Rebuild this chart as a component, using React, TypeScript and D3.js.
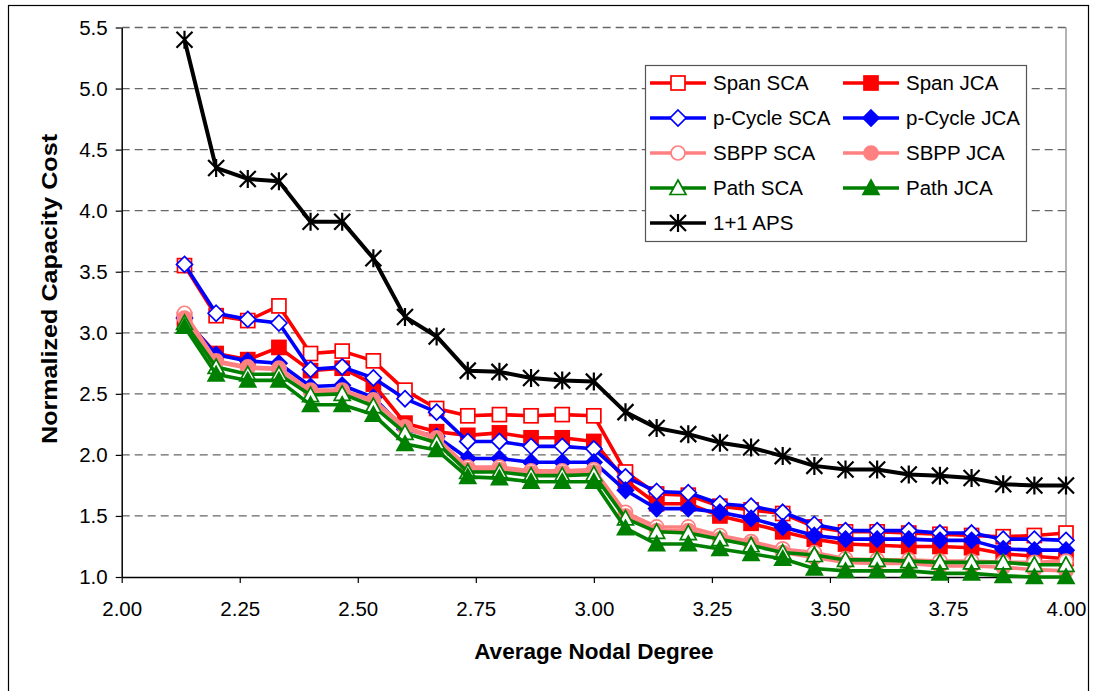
import { useEffect, useRef } from 'react';
import * as d3 from 'd3';

const degrees = [2.133, 2.2, 2.267, 2.333, 2.4, 2.467, 2.533, 2.6, 2.667, 2.733, 2.8, 2.867, 2.933, 3.0,
  3.067, 3.133, 3.2, 3.267, 3.333, 3.4, 3.467, 3.533, 3.6, 3.667, 3.733, 3.8, 3.867, 3.933, 4.0];

const spanSCA = [3.55, 3.14, 3.10, 3.22, 2.83, 2.85, 2.77, 2.53, 2.38, 2.32, 2.33, 2.32, 2.33, 2.32,
  1.86, 1.68, 1.67, 1.58, 1.55, 1.52, 1.41, 1.37, 1.37, 1.36, 1.35, 1.34, 1.33, 1.34, 1.36];
const spanJCA = [3.11, 2.83, 2.78, 2.88, 2.69, 2.71, 2.58, 2.26, 2.19, 2.16, 2.18, 2.14, 2.14, 2.11,
  1.79, 1.60, 1.60, 1.50, 1.44, 1.37, 1.31, 1.27, 1.26, 1.25, 1.25, 1.24, 1.19, 1.17, 1.15];
const pcycleSCA = [3.56, 3.16, 3.11, 3.08, 2.70, 2.72, 2.63, 2.46, 2.35, 2.11, 2.11, 2.07, 2.07, 2.05,
  1.82, 1.70, 1.69, 1.60, 1.58, 1.53, 1.43, 1.38, 1.38, 1.38, 1.36, 1.36, 1.31, 1.31, 1.30];
const pcycleJCA = [3.12, 2.82, 2.77, 2.75, 2.56, 2.57, 2.47, 2.21, 2.15, 1.97, 1.97, 1.94, 1.94, 1.94,
  1.71, 1.56, 1.56, 1.53, 1.48, 1.41, 1.34, 1.31, 1.31, 1.31, 1.30, 1.30, 1.23, 1.22, 1.22];
const sbppSCA = [3.16, 2.77, 2.72, 2.71, 2.53, 2.53, 2.45, 2.23, 2.14, 1.90, 1.90, 1.87, 1.87, 1.88,
  1.53, 1.41, 1.41, 1.34, 1.29, 1.23, 1.20, 1.15, 1.14, 1.14, 1.13, 1.13, 1.12, 1.12, 1.13];
const sbppJCA = [3.12, 2.76, 2.71, 2.70, 2.52, 2.52, 2.44, 2.22, 2.13, 1.88, 1.88, 1.85, 1.85, 1.86,
  1.50, 1.38, 1.38, 1.31, 1.27, 1.20, 1.16, 1.12, 1.11, 1.11, 1.09, 1.09, 1.08, 1.06, 1.05];
const pathSCA = [3.08, 2.72, 2.66, 2.66, 2.49, 2.50, 2.40, 2.18, 2.10, 1.86, 1.86, 1.83, 1.83, 1.84,
  1.48, 1.37, 1.36, 1.31, 1.26, 1.20, 1.18, 1.14, 1.14, 1.13, 1.12, 1.12, 1.12, 1.10, 1.10];
const pathJCA = [3.05, 2.66, 2.61, 2.61, 2.41, 2.41, 2.33, 2.09, 2.04, 1.82, 1.81, 1.78, 1.78, 1.78,
  1.40, 1.27, 1.27, 1.23, 1.19, 1.15, 1.07, 1.05, 1.05, 1.05, 1.03, 1.03, 1.01, 1.00, 1.00];
const aps = [5.40, 4.35, 4.26, 4.24, 3.91, 3.91, 3.61, 3.13, 2.97, 2.69, 2.68, 2.63, 2.61, 2.60,
  2.35, 2.22, 2.17, 2.10, 2.06, 1.99, 1.91, 1.88, 1.88, 1.84, 1.83, 1.81, 1.76, 1.75, 1.75];

const xTicks = [2.0, 2.25, 2.5, 2.75, 3.0, 3.25, 3.5, 3.75, 4.0];
const yTicks = [1.0, 1.5, 2.0, 2.5, 3.0, 3.5, 4.0, 4.5, 5.0, 5.5];

const series = [
  { name: 'Span SCA', values: spanSCA, color: '#ff0000', marker: 'square', filled: false },
  { name: 'Span JCA', values: spanJCA, color: '#ff0000', marker: 'square', filled: true },
  { name: 'p-Cycle SCA', values: pcycleSCA, color: '#0000ff', marker: 'diamond', filled: false },
  { name: 'p-Cycle JCA', values: pcycleJCA, color: '#0000ff', marker: 'diamond', filled: true },
  { name: 'SBPP SCA', values: sbppSCA, color: '#ff8080', marker: 'circle', filled: false },
  { name: 'SBPP JCA', values: sbppJCA, color: '#ff8080', marker: 'circle', filled: true },
  { name: 'Path SCA', values: pathSCA, color: '#008000', marker: 'triangle', filled: false },
  { name: 'Path JCA', values: pathJCA, color: '#008000', marker: 'triangle', filled: true },
  { name: '1+1 APS', values: aps, color: '#000000', marker: 'star', filled: false },
];

const FONT = '"Liberation Sans", Arial, sans-serif';

function drawMarker(g, type, color, filled, x, y) {
  const fill = filled ? color : '#ffffff';
  if (type === 'square') {
    g.append('rect').attr('x', x - 7).attr('y', y - 7).attr('width', 14).attr('height', 14)
      .attr('fill', fill).attr('stroke', color).attr('stroke-width', 1.7);
  } else if (type === 'diamond') {
    g.append('path').attr('d', `M${x},${y - 8}L${x + 8},${y}L${x},${y + 8}L${x - 8},${y}Z`)
      .attr('fill', fill).attr('stroke', color).attr('stroke-width', 1.7);
  } else if (type === 'circle') {
    g.append('circle').attr('cx', x).attr('cy', y).attr('r', 7)
      .attr('fill', fill).attr('stroke', color).attr('stroke-width', 1.7);
  } else if (type === 'triangle') {
    g.append('path').attr('d', `M${x},${y - 8}L${x + 8},${y + 6.5}L${x - 8},${y + 6.5}Z`)
      .attr('fill', fill).attr('stroke', color).attr('stroke-width', 1.7);
  } else if (type === 'star') {
    const r = 8;
    g.append('path')
      .attr('d', `M${x - r},${y - r}L${x + r},${y + r}M${x - r},${y + r}L${x + r},${y - r}M${x},${y - r - 1}L${x},${y + r + 1}`)
      .attr('stroke', color).attr('stroke-width', 2.2).attr('fill', 'none');
  }
}

function CapacityChart() {
  const svgRef = useRef(null);

  useEffect(() => {
    const width = 1097;
    const height = 691;
    const margin = { top: 27.5, right: 1097 - 1066, bottom: 691 - 577, left: 121.7 };

    const svg = d3.select(svgRef.current)
      .attr('width', width)
      .attr('height', height);

    svg.selectAll('*').remove();

    svg.append('rect').attr('x', 0).attr('y', 0).attr('width', width).attr('height', height).attr('fill', '#fff');
    svg.append('rect').attr('x', 8.5).attr('y', 5.5).attr('width', 1080).attr('height', 700)
      .attr('fill', 'none').attr('stroke', '#000').attr('stroke-width', 1.2);

    const xScale = d3.scaleLinear().domain([2, 4]).range([margin.left, width - margin.right]);
    const yScale = d3.scaleLinear().domain([1, 5.5]).range([height - margin.bottom, margin.top]);

    // gridlines
    svg.append('g')
      .selectAll('line')
      .data(yTicks.filter(t => t > 1))
      .enter()
      .append('line')
      .attr('x1', margin.left)
      .attr('x2', width - margin.right)
      .attr('y1', d => yScale(d))
      .attr('y2', d => yScale(d))
      .attr('stroke', '#666')
      .attr('stroke-width', 1.3)
      .attr('stroke-dasharray', '8,5');

    // plot area right border
    svg.append('line')
      .attr('x1', width - margin.right).attr('x2', width - margin.right)
      .attr('y1', margin.top).attr('y2', height - margin.bottom)
      .attr('stroke', '#808080').attr('stroke-width', 1.2);

    // axes
    const xAxis = svg.append('g')
      .attr('transform', `translate(0, ${height - margin.bottom})`)
      .call(d3.axisBottom(xScale).tickValues(xTicks).tickFormat(d3.format('.2f')).tickSizeInner(6).tickSizeOuter(0).tickPadding(18));
    const yAxis = svg.append('g')
      .attr('transform', `translate(${margin.left}, 0)`)
      .call(d3.axisLeft(yScale).tickValues(yTicks).tickFormat(d3.format('.1f')).tickSizeInner(6).tickSizeOuter(0).tickPadding(8));

    [xAxis, yAxis].forEach(a => {
      a.selectAll('path').attr('stroke', '#000').attr('stroke-width', 1.5);
      a.selectAll('line').attr('stroke', '#000').attr('stroke-width', 1.2);
      a.selectAll('text').attr('font-family', FONT).attr('font-size', 20.5).attr('fill', '#000');
    });

    // series
    series.forEach(s => {
      const g = svg.append('g');
      const line = d3.line()
        .x((d, i) => xScale(degrees[i]))
        .y(d => yScale(d));
      g.append('path')
        .datum(s.values)
        .attr('d', line)
        .attr('fill', 'none')
        .attr('stroke', s.color)
        .attr('stroke-width', s.marker === 'star' ? 4 : 3.6)
        .attr('stroke-linejoin', 'round');
      s.values.forEach((v, i) => drawMarker(g, s.marker, s.color, s.filled, xScale(degrees[i]), yScale(v)));
    });

    // axis titles
    svg.append('text')
      .attr('x', (margin.left + width - margin.right) / 2)
      .attr('y', 659)
      .attr('text-anchor', 'middle')
      .attr('font-family', FONT)
      .attr('font-weight', 'bold')
      .attr('font-size', 22.5)
      .text('Average Nodal Degree');

    svg.append('text')
      .attr('transform', 'translate(57, 289) rotate(-90) scale(1.17, 1)')
      .attr('text-anchor', 'middle')
      .attr('font-family', FONT)
      .attr('font-weight', 'bold')
      .attr('font-size', 21.5)
      .text('Normalized Capacity Cost');

    // legend
    const legend = svg.append('g');
    legend.append('rect')
      .attr('x', 645.5).attr('y', 65.5).attr('width', 381).attr('height', 176)
      .attr('fill', '#fff').attr('stroke', '#555').attr('stroke-width', 1.2);
    series.forEach((s, i) => {
      const col = i % 2;
      const row = Math.floor(i / 2);
      const x0 = col === 0 ? 650 : 843;
      const cy = 83 + row * 35;
      legend.append('line')
        .attr('x1', x0).attr('x2', x0 + 56).attr('y1', cy).attr('y2', cy)
        .attr('stroke', s.color).attr('stroke-width', 3.6);
      drawMarker(legend, s.marker, s.color, s.filled, x0 + 28, cy);
      legend.append('text')
        .attr('x', x0 + 63).attr('y', cy + 7)
        .attr('font-family', FONT).attr('font-size', 20.5)
        .text(s.name);
    });
  }, []);

  return <svg ref={svgRef} style={{ position: 'absolute', left: 0, top: 0, display: 'block' }}></svg>;
}

export default function App() {
  return <CapacityChart />;
}
